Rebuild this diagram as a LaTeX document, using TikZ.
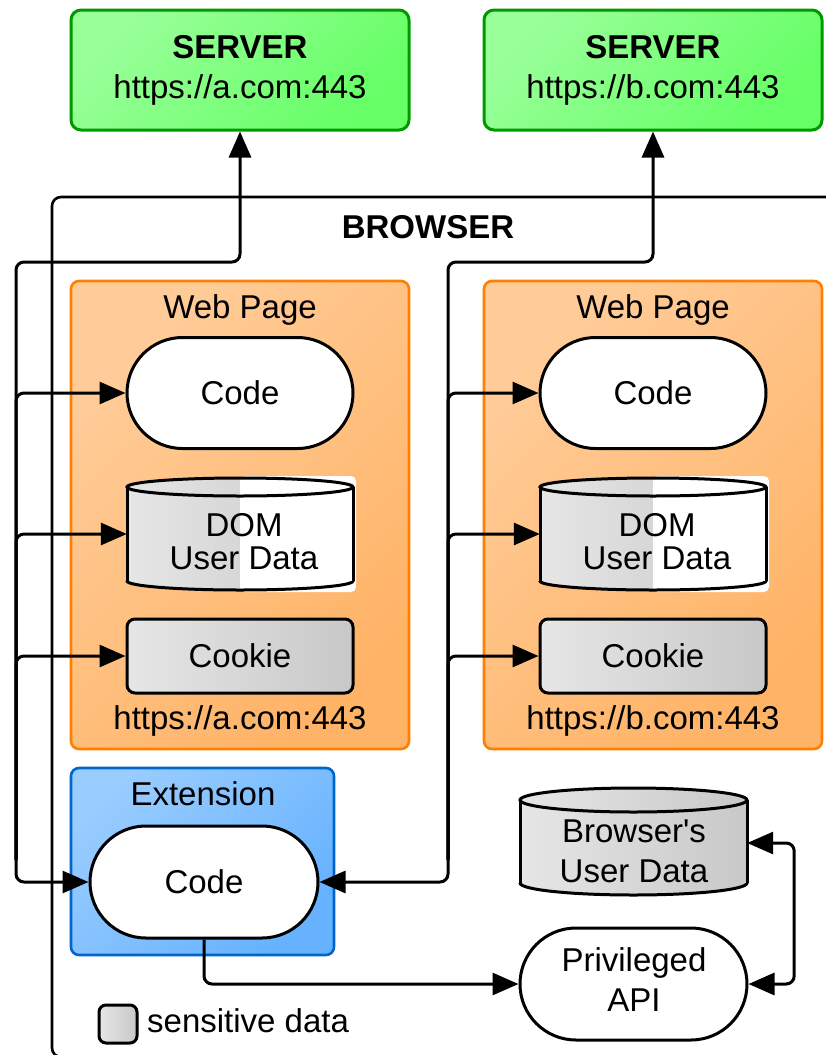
\documentclass[tikz,border=0pt]{standalone}
\usepackage{fontspec}
\setmainfont[Ligatures=TeXOff]{Liberation Sans}
\usetikzlibrary{arrows.meta,shapes.misc}

\definecolor{srvA}{HTML}{99FF99}
\definecolor{srvB}{HTML}{66FF66}
\definecolor{srvLine}{HTML}{009900}
\definecolor{pgA}{HTML}{FFCC99}
\definecolor{pgB}{HTML}{FFB366}
\definecolor{pgLine}{HTML}{FF8000}
\definecolor{exA}{HTML}{99CCFF}
\definecolor{exB}{HTML}{66B2FF}
\definecolor{exLine}{HTML}{0066CC}
\definecolor{grA}{HTML}{E6E6E6}
\definecolor{grB}{HTML}{C8C8C8}

\tikzset{
  txt/.style={font=\fontsize{33}{40}\selectfont, inner sep=0pt, align=center},
  serverbox/.style={txt, draw=srvLine, line width=3pt, rounded corners=10pt,
    top color=srvA, bottom color=srvB, shading angle=45,
    minimum width=338pt, minimum height=120pt},
  pagebox/.style={draw=pgLine, line width=2.6pt, rounded corners=8pt,
    top color=pgA, bottom color=pgB, shading angle=45,
    minimum width=338pt, minimum height=468pt},
  extbox/.style={draw=exLine, line width=2.6pt, rounded corners=8pt,
    top color=exA, bottom color=exB, shading angle=45,
    minimum width=263pt, minimum height=187pt},
  pill/.style={txt, rounded rectangle, draw, line width=3pt, fill=white,
    minimum width=226pt, minimum height=111pt},
  cookiebox/.style={txt, draw, line width=3pt, rounded corners=8pt,
    left color=grA, right color=grB, minimum width=226pt, minimum height=74pt},
  drumanchor/.style={inner sep=0pt, minimum width=#1},
  shapeline/.style={line width=3pt},
  link/.style={line width=3pt, rounded corners=8pt},
}

% filled body of a vertical drum: x1, x2, top, bottom, ellipse half-height, fill options
\newcommand\drumbody[6]{%
  \path[#6] (#1,#3+#5) rectangle (#2,#4-#5);
  \path[#6] ({(#1+#2)/2},#3+#5) ellipse [x radius={(#2-#1)/2}, y radius=#5];
  \path[#6] ({(#1+#2)/2},#4-#5) ellipse [x radius={(#2-#1)/2}, y radius=#5];}
% outline of the same drum
\newcommand\drumoutline[5]{%
  \draw[shapeline] ({(#1+#2)/2},#3+#5) ellipse [x radius={(#2-#1)/2}, y radius=#5];
  \draw[shapeline] (#1,#3+#5) -- (#1,#4-#5);
  \draw[shapeline] (#2,#3+#5) -- (#2,#4-#5);
  \begin{scope}
    \clip (#1-5,#4-#5) rectangle (#2+5,#4+5);
    \draw[shapeline] ({(#1+#2)/2},#4-#5) ellipse [x radius={(#2-#1)/2}, y radius=#5];
  \end{scope}}

\begin{document}
\begin{tikzpicture}[x=1pt, y=-1pt, >={Triangle[length=26pt,width=22pt]}]
\useasboundingbox (0,0) rectangle (826,1055);

% browser frame
\begin{scope}
  \clip (0,0) rectangle (826,1055);
  \draw[line width=2.6pt, rounded corners=9pt] (52,197) rectangle (900,1057);
\end{scope}
\node[txt, font=\fontsize{33}{40}\selectfont\bfseries, anchor=base] (browser) at (428,238) {BROWSER};

% servers
\node[serverbox] (sa) at (240,70) {\textbf{SERVER}\\https://a.com:443};
\node[serverbox] (sb) at (653,70) {\textbf{SERVER}\\https://b.com:443};

% web pages
\node[pagebox] (pa) at (240,515) {};
\node[pagebox] (pb) at (653,515) {};
\node[txt, anchor=base] (pat) at (240,318) {Web Page};
\node[txt, anchor=base] (pbt) at (653,318) {Web Page};
\node[txt, anchor=base] (pau) at (240,729) {https://a.com:443};
\node[txt, anchor=base] (pbu) at (653,729) {https://b.com:443};

% extension
\node[extbox] (ex) at (202.5,861.5) {};
\node[txt, anchor=base] (ext) at (203,805) {Extension};

% code blocks
\node[pill] (ca) at (240,393) {Code};
\node[pill] (cb) at (653,393) {Code};
\node[pill, minimum width=228pt, minimum height=112pt] (ec) at (204,882) {Code};
\node[pill, minimum width=227pt, minimum height=112pt] (api) at (633.5,984) {};
\node[txt] (apit) at (634,980) {Privileged\\API};

% cookies
\node[cookiebox] (ka) at (240,656) {Cookie};
\node[cookiebox] (kb) at (653,656) {Cookie};

% DOM stores, partly sensitive
\drumbody{127}{353}{478}{590}{9}{left color=grA, right color=grB}
\fill[white, rounded corners=5pt] (240,476) rectangle (356,592);
\drumoutline{127}{353}{478}{590}{9}
\node[drumanchor=226pt, minimum height=112pt] (da) at (240,534) {};
\node[txt, font=\fontsize{33}{33}\selectfont] (dat) at (244,541.5) {DOM\\User Data};

\drumbody{540}{766}{478}{590}{9}{left color=grA, right color=grB}
\fill[white, rounded corners=5pt] (653,476) rectangle (769,592);
\drumoutline{540}{766}{478}{590}{9}
\node[drumanchor=226pt, minimum height=112pt] (db) at (653,534) {};
\node[txt, font=\fontsize{33}{33}\selectfont] (dbt) at (657,541.5) {DOM\\User Data};

% browser's own store
\drumbody{520}{747}{788}{895}{12}{left color=grA, right color=grB}
\drumoutline{520}{747}{788}{895}{12}
\node[drumanchor=227pt, minimum height=107pt] (bud) at (633.5,843) {};
\node[txt] (budt) at (634,851) {Browser's\\User Data};

% legend
\node[draw, line width=3pt, rounded corners=7pt, left color=grA, right color=grB,
      minimum width=38pt, minimum height=38pt, inner sep=0pt] (lg) at (118,1024) {};
\node[txt, anchor=base west] (lgt) at (147,1032) {sensitive data};

% connectors
\draw[link, <->] (sa.south) |- (16,262) |- (ec.west);
\draw[link, <->] (sb.south) |- (448,262) |- (ec.east);
\foreach \nm in {ca,da,ka} \draw[link, ->] (16,860) |- (\nm.west);
\foreach \nm in {cb,db,kb} \draw[link, ->] (448,860) |- (\nm.west);
\draw[link, ->] (ec.south) |- (api.west);
\draw[link, <->] (bud.east) -- ++(47,0) |- (api.east);
\end{tikzpicture}
\end{document}
